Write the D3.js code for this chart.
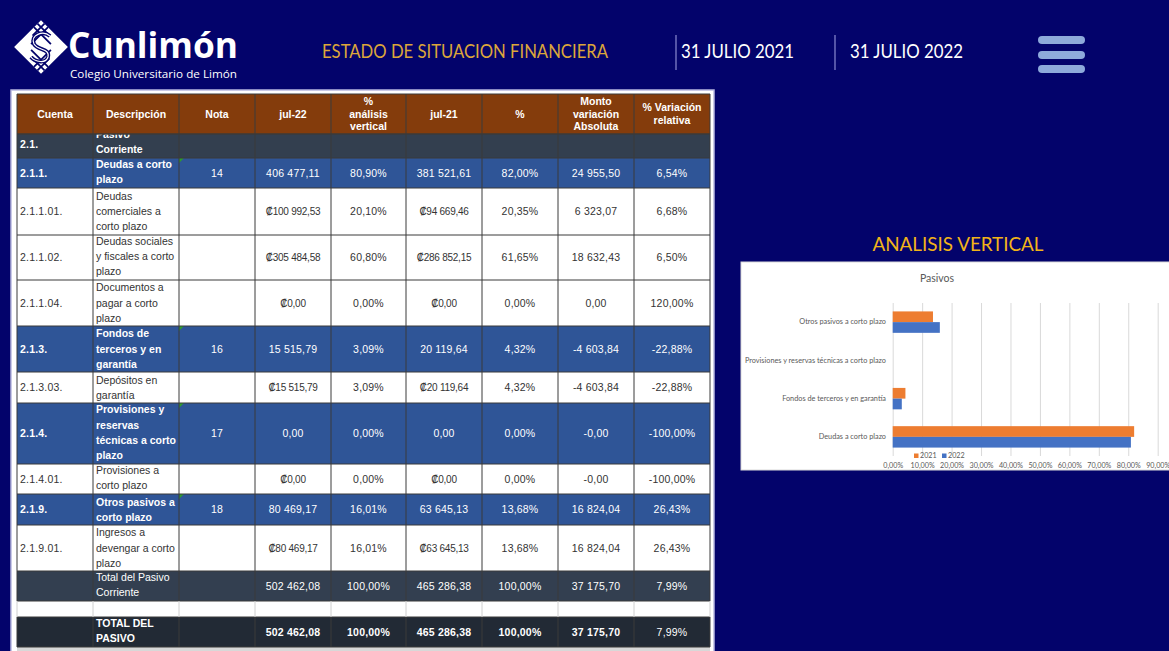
<!DOCTYPE html>
<html><head><meta charset="utf-8">
<script src="https://cdn.jsdelivr.net/npm/d3@7"></script>
<style>
html,body{margin:0;padding:0;background:#03036b;overflow:hidden;}
svg{display:block;}
</style></head><body>
<svg id="c" width="1169" height="651"></svg>
<script>
// ---------- TABLE DATA ----------
const tableHeaders = ["Cuenta","Descripción","Nota","jul-22","%|análisis|vertical","jul-21","%","Monto|variación|Absoluta","% Variación|relativa"];
const cuentas = ["2.1.","2.1.1.","2.1.1.01.","2.1.1.02.","2.1.1.04.","2.1.3.","2.1.3.03.","2.1.4.","2.1.4.01.","2.1.9.","2.1.9.01.","","",""];
const descripciones = ["Pasivo|Corriente","Deudas a corto|plazo","Deudas|comerciales a|corto plazo","Deudas sociales|y fiscales a corto|plazo","Documentos a|pagar a corto|plazo","Fondos de|terceros y en|garantía","Depósitos en|garantía","Provisiones y|reservas|técnicas a corto|plazo","Provisiones a|corto plazo","Otros pasivos a|corto plazo","Ingresos a|devengar a corto|plazo","Total del Pasivo|Corriente","","TOTAL DEL|PASIVO"];
const notas = ["","14","","","","16","","17","","18","","","",""];
const jul22 = ["","406 477,11","₡100 992,53","₡305 484,58","₡0,00","15 515,79","₡15 515,79","0,00","₡0,00","80 469,17","₡80 469,17","502 462,08","","502 462,08"];
const pctJul22 = ["","80,90%","20,10%","60,80%","0,00%","3,09%","3,09%","0,00%","0,00%","16,01%","16,01%","100,00%","","100,00%"];
const jul21 = ["","381 521,61","₡94 669,46","₡286 852,15","₡0,00","20 119,64","₡20 119,64","0,00","₡0,00","63 645,13","₡63 645,13","465 286,38","","465 286,38"];
const pctJul21 = ["","82,00%","20,35%","61,65%","0,00%","4,32%","4,32%","0,00%","0,00%","13,68%","13,68%","100,00%","","100,00%"];
const montoVar = ["","24 955,50","6 323,07","18 632,43","0,00","-4 603,84","-4 603,84","-0,00","-0,00","16 824,04","16 824,04","37 175,70","","37 175,70"];
const pctVar = ["","6,54%","6,68%","6,50%","120,00%","-22,88%","-22,88%","-100,00%","-100,00%","26,43%","26,43%","7,99%","","7,99%"];
const rowTypes = ["sec","blue","white","white","white","blue","white","blue","white","blue","white","total","blank","grand"];

// ---------- CHART DATA ----------
const chartTitle = "Pasivos";
const categories = ["Deudas a corto plazo","Fondos de terceros y en garantía","Provisiones y reservas técnicas a corto plazo","Otros pasivos a corto plazo"];
const seriesNames = ["2021","2022"];
const values2021 = [0.8200, 0.0432, 0.0000, 0.1368];
const values2022 = [0.8090, 0.0309, 0.0000, 0.1601];
const xTickValues = [0,0.1,0.2,0.3,0.4,0.5,0.6,0.7,0.8,0.9];

// ---------- LAYOUT ----------
const navy = "#03036b";
const svg = d3.select("#c");
svg.append("rect").attr("width",1169).attr("height",651).attr("fill",navy);

// Logo
const lg = svg.append("g").attr("transform","translate(41,47)");
const lgr = lg.append("g").attr("transform","rotate(45)");
lgr.append("rect").attr("x",-19).attr("y",-19).attr("width",38).attr("height",38).attr("fill","#fff");
lgr.append("path").attr("d","M-19,-9 H5 M-9,-19 V5 M19,9 H-5 M9,19 V-5 M-19,-14 H-2 M-14,-19 V-2 M19,14 H2 M14,19 V2")
  .attr("stroke",navy).attr("stroke-width",1.8).attr("fill","none");
lg.append("path").attr("d","M9,-11 C2,-17 -11,-12 -7,-3 C-3,4 9,1 7,10 C5,17 -6,15 -10,10")
  .attr("stroke",navy).attr("stroke-width",4).attr("fill","none");
lg.append("path").attr("d","M9,-11 C2,-17 -11,-12 -7,-3 C-3,4 9,1 7,10 C5,17 -6,15 -10,10")
  .attr("stroke","#fff").attr("stroke-width",1.2).attr("fill","none");

svg.append("text").attr("x",68).attr("y",58).text("Cunlimón")
  .attr("font-family","Open Sans, sans-serif").attr("font-weight",700).attr("font-size",35)
  .attr("fill","#fff").attr("textLength",170).attr("lengthAdjust","spacingAndGlyphs");
svg.append("text").attr("x",70).attr("y",78).text("Colegio Universitario de Limón")
  .attr("font-family","Open Sans, sans-serif").attr("font-size",11.5)
  .attr("fill","#fff").attr("textLength",167).attr("lengthAdjust","spacingAndGlyphs");

svg.append("text").attr("x",322).attr("y",58).text("ESTADO DE SITUACION FINANCIERA")
  .attr("font-family","Lato, sans-serif").attr("font-size",18.5).attr("fill","#dca63a")
  .attr("textLength",286).attr("lengthAdjust","spacingAndGlyphs");
[[676,681,"31 JULIO 2021"],[835,850,"31 JULIO 2022"]].forEach(([lx,tx,t])=>{
  svg.append("line").attr("x1",lx).attr("x2",lx).attr("y1",35).attr("y2",70).attr("stroke","#8a8ad0").attr("stroke-width",1.2);
  svg.append("text").attr("x",tx).attr("y",58).text(t).attr("font-family","Lato, sans-serif")
    .attr("font-size",18.5).attr("fill","#fff").attr("textLength",113).attr("lengthAdjust","spacingAndGlyphs");
});
[36,51,65].forEach(y=>svg.append("rect").attr("x",1038).attr("y",y).attr("width",47).attr("height",8)
  .attr("rx",4).attr("fill","#8eaadb"));

// ---------- TABLE ----------
const colX = [17,93,179,255,331,406,482,558,634,710];
const headerY = [94,134];
const rowY = [134,158,188,235,280,326,372,403,464,494,525,571,601,617,647];
svg.append("rect").attr("x",11).attr("y",90).attr("width",703).attr("height",565).attr("fill","#fff")
  .attr("stroke","#b8b8e0").attr("stroke-width",1.5);
svg.append("rect").attr("x",17).attr("y",647).attr("width",693).attr("height",6).attr("fill","#d8d8d8");

const fills = {sec:"#333f4f",blue:"#2f5597",white:"#ffffff",total:"#333f50",blank:"#ffffff",grand:"#222a35"};
const tbl = svg.append("g");
const defs = svg.append("defs");
const FF = "Liberation Sans, Arial, sans-serif";

// header
tbl.append("rect").attr("x",colX[0]).attr("y",headerY[0]).attr("width",colX[9]-colX[0]).attr("height",headerY[1]-headerY[0]).attr("fill","#843c0c");
tableHeaders.forEach((h,i)=>{
  const lines = h.split("|");
  const cx = (colX[i]+colX[i+1])/2, cy=(headerY[0]+headerY[1])/2, lh=12.5;
  lines.forEach((l,k)=>{
    tbl.append("text").attr("x",cx).attr("y",cy+(k-(lines.length-1)/2)*lh).attr("dy","0.35em")
      .attr("text-anchor","middle").attr("font-family",FF).attr("font-weight",700).attr("font-size",10.5)
      .attr("fill","#fff").text(l);
  });
});

const cols = [cuentas,descripciones,notas,jul22,pctJul22,jul21,pctJul21,montoVar,pctVar];
rowTypes.forEach((type,r)=>{
  const y0=rowY[r], y1=rowY[r+1], h=y1-y0, cy=(y0+y1)/2;
  tbl.append("rect").attr("x",colX[0]).attr("y",y0).attr("width",colX[9]-colX[0]).attr("height",h).attr("fill",fills[type]);
  const dark = type!=="white" && type!=="blank";
  const color = dark ? "#ffffff" : "#333333";
  if(type==="blue"){
    tbl.append("path").attr("d",`M${colX[2]},${y0} h5 l-5,5 Z`).attr("fill","#2e9b2e");
  }
  cols.forEach((col,c)=>{
    const val = col[r];
    if(!val) return;
    const boldRow = (type==="sec"||type==="blue"||type==="grand");
    let bold = false;
    if(c===0) bold = (type==="sec"||type==="blue");
    else if(c===1) bold = boldRow;
    else bold = (type==="grand" && c<8);
    const currency = val.startsWith("₡");
    const fs = currency ? 10 : 10.5;
    if(c===1){
      const id = "clip"+r;
      defs.append("clipPath").attr("id",id).append("rect").attr("x",colX[1]).attr("y",y0).attr("width",colX[2]-colX[1]).attr("height",h);
      const lines = val.split("|"), lh=15.3;
      const total = lines.length*lh;
      let first;
      if(total>h) first = y1 - 8.5 - (lines.length-1)*lh;
      else first = cy - (lines.length-1)/2*lh;
      const g = tbl.append("g").attr("clip-path",`url(#${id})`);
      lines.forEach((l,k)=>{
        g.append("text").attr("x",colX[1]+3).attr("y",first+k*lh).attr("dy","0.35em")
          .attr("font-family",FF).attr("font-size",10.5).attr("font-weight",bold?700:400)
          .attr("fill",color).text(l);
      });
    } else {
      const x = c===0 ? colX[0]+3 : (colX[c]+colX[c+1])/2;
      tbl.append("text").attr("x",x).attr("y",c===0 && type==="sec" ? cy-2 : cy).attr("dy","0.35em")
        .attr("text-anchor",c===0?"start":"middle").attr("font-family",FF).attr("font-size",fs)
        .attr("letter-spacing",currency?-0.25:0.2)
        .attr("font-weight",bold?700:400).attr("fill",color).text(val);
    }
  });
});
// grid lines
const gridC = "#3a3a3a";
rowY.concat(headerY).forEach(y=>tbl.append("line").attr("x1",colX[0]).attr("x2",colX[9]).attr("y1",y).attr("y2",y).attr("stroke",gridC).attr("stroke-width",1));
colX.forEach(x=>{
  tbl.append("line").attr("x1",x).attr("x2",x).attr("y1",headerY[0]).attr("y2",rowY[12]).attr("stroke",gridC).attr("stroke-width",1);
  tbl.append("line").attr("x1",x).attr("x2",x).attr("y1",rowY[12]).attr("y2",rowY[13]).attr("stroke","#d0d0d0").attr("stroke-width",1);
  tbl.append("line").attr("x1",x).attr("x2",x).attr("y1",rowY[13]).attr("y2",rowY[14]).attr("stroke",gridC).attr("stroke-width",1);
});

// ---------- CHART ----------
svg.append("text").attr("x",958).attr("y",251).attr("text-anchor","middle").text("ANALISIS VERTICAL")
  .attr("font-family","Lato, sans-serif").attr("font-size",20).attr("fill","#f2b418")
  .attr("textLength",171).attr("lengthAdjust","spacingAndGlyphs");
svg.append("rect").attr("x",741).attr("y",262).attr("width",440).attr("height",208).attr("fill","#fff")
  .attr("stroke","#d9d9d9").attr("stroke-width",1);
const CF = "Lato, Liberation Sans, sans-serif";
svg.append("text").attr("x",937).attr("y",278).attr("dy","0.35em").attr("text-anchor","middle")
  .attr("font-family",CF).attr("font-size",10.5).attr("fill","#595959").text(chartTitle);

const x = d3.scaleLinear().domain([0,0.9]).range([892.7,1157.7]);
const y = d3.scaleBand().domain(categories.slice().reverse()).range([303,456]).paddingInner(0.44).paddingOuter(0.22);
const ys = d3.scaleBand().domain(seriesNames).range([0,y.bandwidth()]);
const colors = {"2021":"#ed7d31","2022":"#4472c4"};
const locale = d3.formatLocale({decimal:",",thousands:" ",grouping:[3],currency:["",""]});
const fmt = locale.format(".2%");

const chart = svg.append("g");
chart.append("g").attr("transform","translate(0,456)")
  .call(d3.axisBottom(x).tickValues(xTickValues).tickSize(-(456-303)).tickFormat(fmt))
  .call(g=>{
    g.select(".domain").remove();
    g.selectAll(".tick line").attr("stroke","#d9d9d9");
    g.selectAll(".tick text").attr("fill","#595959").attr("font-family",CF).attr("font-size",7.2).attr("dy","0.9em").attr("y",5.5);
  });
chart.append("g").attr("transform","translate(886,0)")
  .call(d3.axisLeft(y).tickSize(0).tickPadding(0))
  .call(g=>{
    g.select(".domain").remove();
    g.selectAll(".tick text").attr("fill","#595959").attr("font-family",CF).attr("font-size",7.3);
  });
const rows = categories.map((c,i)=>({cat:c,vals:[{s:"2021",v:values2021[i]},{s:"2022",v:values2022[i]}]}));
chart.selectAll("g.cat").data(rows).join("g").attr("class","cat")
  .attr("transform",d=>`translate(0,${y(d.cat)})`)
  .selectAll("rect").data(d=>d.vals).join("rect")
  .attr("x",x(0)).attr("y",d=>ys(d.s)).attr("height",ys.bandwidth())
  .attr("width",d=>x(d.v)-x(0)).attr("fill",d=>colors[d.s]);

// legend
const leg = chart.append("g");
[[914,"2021"],[942,"2022"]].forEach(([lx,s])=>{
  leg.append("rect").attr("x",lx).attr("y",453.5).attr("width",4.5).attr("height",4.5).attr("fill",colors[s]);
  leg.append("text").attr("x",lx+6).attr("y",455.5).attr("dy","0.35em").attr("font-family",CF)
    .attr("font-size",7.2).attr("fill","#595959").text(s);
});
</script>
</body></html>
